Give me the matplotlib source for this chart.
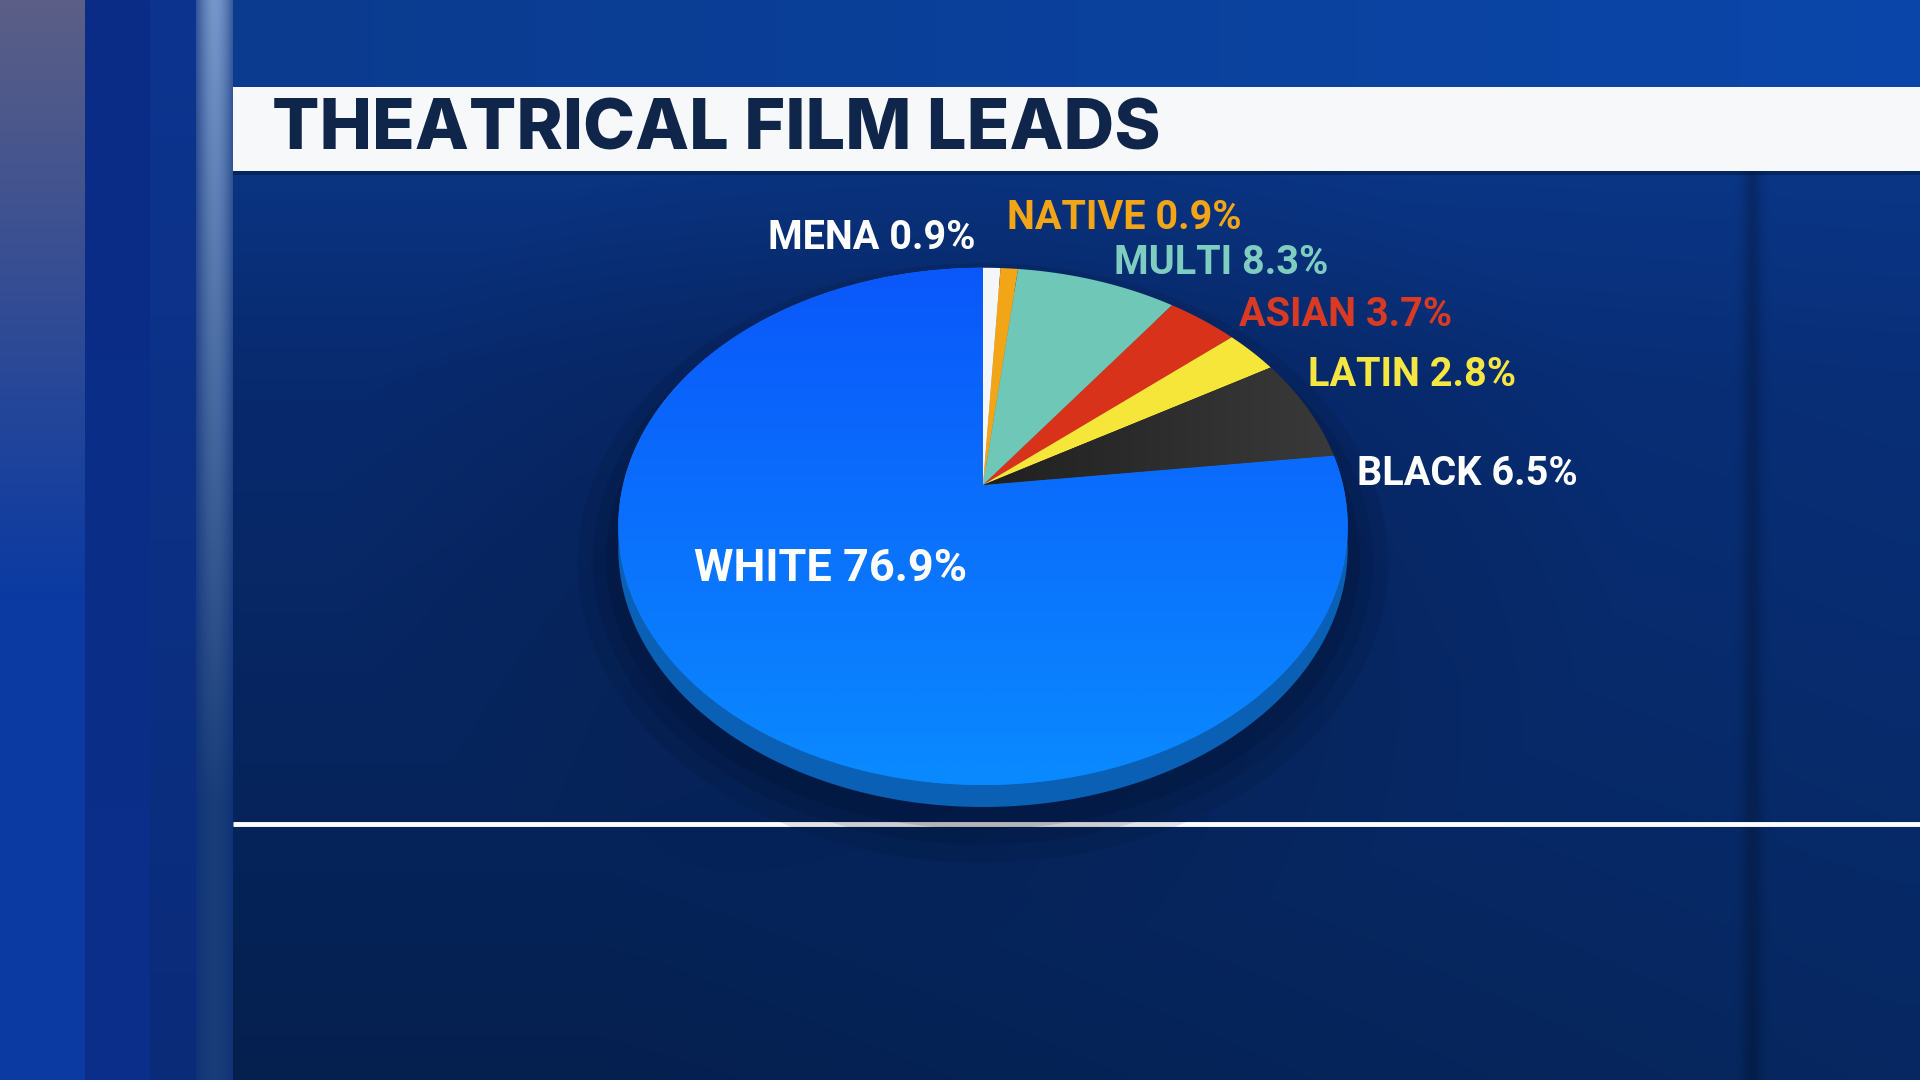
import numpy as np
import matplotlib
matplotlib.use("Agg")
import matplotlib.pyplot as plt
import matplotlib.transforms as mtransforms
from matplotlib.path import Path
from matplotlib.colors import to_rgb

# ---------------- data ----------------
categories = ["MENA", "NATIVE", "MULTI", "ASIAN", "LATIN", "BLACK", "WHITE"]
shares = [0.9, 0.9, 8.3, 3.7, 2.8, 6.5, 76.9]
slice_colors = ["#f4f6f8", "#f2a516", "#6ec7b7", "#d9321b", "#f7e63a", "#2c2c2c", "#0a78ff"]
label_colors = ["#ffffff", "#f2a516", "#7ecdc0", "#d83a23", "#f5e642", "#ffffff", "#ffffff"]
title = "THEATRICAL FILM LEADS"

W, H = 1920, 1080
fig = plt.figure(figsize=(19.2, 10.8), dpi=100)
ax = fig.add_axes([0, 0, 1, 1])

# ---------------- background ----------------
yy, xx = np.mgrid[0:H, 0:W].astype(float)
bg = np.zeros((H, W, 3))

def lerp(c1, c2, t):
    c1 = np.array(to_rgb(c1)); c2 = np.array(to_rgb(c2))
    t = np.clip(t, 0, 1)[..., None]
    return c1 * (1 - t) + c2 * t

t = yy / H
main = np.where((t < 0.35)[..., None], lerp("#0c3c92", "#082a6e", t / 0.35),
                lerp("#082a6e", "#05204f", (t - 0.35) / 0.65))
rt = np.clip((xx - 600) / 1300, 0, 1)
main = main * (1 - 0.25 * rt[..., None]) + np.array(to_rgb("#0a3d95")) * (0.25 * rt[..., None])
bg[:] = main
d = np.sqrt(((xx - 980) / 650) ** 2 + ((yy - 520) / 420) ** 2)
bg *= (0.78 + 0.22 * np.clip(d, 0, 1))[..., None]
strip = np.exp(-((xx - 1752) / 10) ** 2)
bg *= (1 - 0.22 * strip)[..., None]

m = xx < 85
bg[m] = lerp("#5c5f86", "#0a3aa2", np.clip(yy / 600, 0, 1))[m]
m = (xx >= 85) & (xx < 150)
bg[m] = lerp("#0a2c86", "#0a2f8a", yy / H)[m]
m = (xx >= 150) & (xx < 196)
bg[m] = lerp("#0d3590", "#0a2b78", yy / H)[m]
m = (xx >= 196) & (xx < 233)
sl = np.clip((xx - 196) / 37, 0, 1)
strip_col = lerp("#7596c8", "#193d78", np.clip(yy / 800, 0, 1))
bg[m] = (strip_col * (0.4 + 0.6 * np.sin(np.pi * sl)[..., None]) +
         lerp("#0a2b78", "#0a2b78", yy / H) * (0.6 - 0.6 * np.sin(np.pi * sl))[..., None])[m]
m = (yy < 87) & (xx >= 233)
bg[m] = lerp("#0b3b8e", "#0a47aa", (xx - 233) / 1687)[m]

ax.imshow(np.clip(bg, 0, 1), extent=(0, W, H, 0), zorder=0, aspect="auto")

# title band
ax.add_patch(plt.Rectangle((233, 87), W - 233, 84, facecolor="#f7f8fa", edgecolor="none", zorder=2))
ax.add_patch(plt.Rectangle((233, 171), W - 233, 4, facecolor="#04183f", alpha=0.5, edgecolor="none", zorder=2))
ax.text(272, 131, title, fontsize=50.5, fontweight=800, family=["Inter", "DejaVu Sans"],
        color="#10254a", va="center", ha="left", zorder=3)

# white rule
ax.plot([233, W], [824, 824], color="white", lw=3.5, solid_capstyle="butt", zorder=2)


# ---------------- perspective pie ----------------
class Persp(mtransforms.Transform):
    input_dims = 2
    output_dims = 2
    is_separable = False
    has_inverse = False

    def __init__(self, cx, cy, a, b, k):
        super().__init__()
        self.cx, self.cy, self.a, self.b, self.k = cx, cy, a, b, k

    def transform_non_affine(self, v):
        v = np.asarray(v, float)
        x, y = v[:, 0], v[:, 1]
        dd = 1 + self.k * y
        return np.column_stack([self.cx + self.a * x / dd, self.cy - self.b * y / dd])

    def transform_path_non_affine(self, path):
        polys, cur = [], []
        ts = np.linspace(0, 1, 24)
        for seg, code in path.iter_bezier():
            if code == Path.MOVETO:
                if len(cur) > 2:
                    polys.append(np.array(cur))
                cur = [seg.control_points[0]]
            else:
                pts = seg(ts)
                cur.extend(list(pts[1:]))
        if len(cur) > 2:
            polys.append(np.array(cur))
        paths = [Path(self.transform_non_affine(p), closed=True) for p in polys]
        return Path.make_compound_path(*paths)


cx, cy, a, b, k = 983, 485, 360, 252, 0.16
thick = 22

def darker(c, f):
    return tuple(np.array(to_rgb(c)) * f)

# soft shadow
for al, grow in [(0.10, 40), (0.10, 25), (0.12, 12)]:
    shp = Persp(cx, cy + thick + 8, a + grow, b + grow, k)
    ws, _ = ax.pie([1], radius=1, center=(0, 0), colors=["#00081c"],
                   wedgeprops=dict(linewidth=0, alpha=al))
    for w in ws:
        w.set_transform(shp + ax.transData)
        w.set_zorder(3)

# side (thickness)
side = Persp(cx, cy + thick, a, b, k)
side_cols = [darker(c, 0.7) for c in slice_colors]
side_cols[-1] = "#0a60b4"
ws_side, _ = ax.pie(shares, radius=1, center=(0, 0), startangle=90, counterclock=False,
                    colors=side_cols, wedgeprops=dict(linewidth=0))
for w in ws_side:
    w.set_transform(side + ax.transData)
    w.set_zorder(4)

# top face
top = Persp(cx, cy, a, b, k)
wedges, _ = ax.pie(shares, radius=1, center=(0, 0), startangle=90, counterclock=False,
                   colors=slice_colors, wedgeprops=dict(linewidth=0))
for w in wedges:
    w.set_transform(top + ax.transData)
    w.set_zorder(5)

grad = lerp("#0a56fa", "#0a8cff", np.linspace(0, 1, 300)[:, None] * np.ones((1, 10)))
im = ax.imshow(grad, extent=(cx - 380, cx + 380, cy + 320, cy - 230), zorder=6, aspect="auto")
im.set_clip_path(wedges[-1])
gradk = lerp("#202020", "#3c3c3c", np.ones((10, 1)) * np.linspace(0, 1, 200)[None, :])
im2 = ax.imshow(gradk, extent=(cx, cx + 380, cy + 100, cy - 150), zorder=6, aspect="auto")
im2.set_clip_path(wedges[-2])

# labels
label_pos = [(976, 238, "right"), (1007, 218, "left"), (1114, 263, "left"),
             (1239, 315, "left"), (1308, 375, "left"), (1357, 474, "left"), (694, 569, "left")]
label_sizes = [28.5, 28.5, 28.5, 28.5, 28.5, 28.5, 32.5]
for cat, val, col, (lx, ly, ha), fs in zip(categories, shares, label_colors, label_pos, label_sizes):
    ax.text(lx, ly, f"{cat} {val}%", fontsize=fs, fontweight="bold", family=["Roboto", "DejaVu Sans"],
            color=col, ha=ha, va="center", zorder=8)

ax.set_xlim(0, W)
ax.set_ylim(H, 0)
ax.set_aspect("auto")
ax.axis("off")
fig.savefig("out.png", dpi=100)
